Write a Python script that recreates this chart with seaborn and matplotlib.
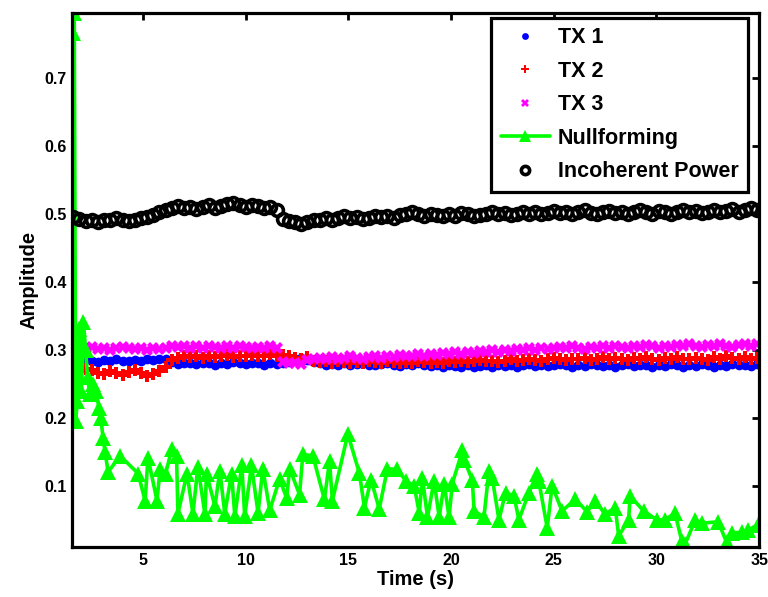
import matplotlib
matplotlib.use("Agg")
import matplotlib.pyplot as plt
import seaborn as sns

# ---------------- data ----------------
time = [1.6, 1.9, 2.2, 2.5, 2.8, 3.1, 3.4, 3.7, 4.0, 4.3,
        4.6, 4.9, 5.2, 5.5, 5.8, 6.1, 6.4, 6.7, 7.0, 7.3,
        7.6, 7.9, 8.2, 8.5, 8.8, 9.1, 9.4, 9.7, 10.0, 10.3,
        10.6, 10.9, 11.2, 11.5, 11.8, 12.1, 12.4, 12.7, 13.0, 13.3,
        13.6, 13.9, 14.2, 14.5, 14.8, 15.1, 15.4, 15.7, 16.0, 16.3,
        16.6, 16.9, 17.2, 17.5, 17.8, 18.1, 18.4, 18.7, 19.0, 19.3,
        19.6, 19.9, 20.2, 20.5, 20.8, 21.1, 21.4, 21.7, 22.0, 22.3,
        22.6, 22.9, 23.2, 23.5, 23.8, 24.1, 24.4, 24.7, 25.0, 25.3,
        25.6, 25.9, 26.2, 26.5, 26.8, 27.1, 27.4, 27.7, 28.0, 28.3,
        28.6, 28.9, 29.2, 29.5, 29.8, 30.1, 30.4, 30.7, 31.0, 31.3,
        31.6, 31.9, 32.2, 32.5, 32.8, 33.1, 33.4, 33.7, 34.0, 34.3,
        34.6, 34.9]

tx1 = [0.285, 0.283, 0.286, 0.284, 0.282, 0.285, 0.283, 0.286, 0.284, 0.283,
       0.285, 0.284, 0.286, 0.285, 0.287, 0.286, 0.282, 0.279, 0.280, 0.281,
       0.279, 0.281, 0.280, 0.278, 0.281, 0.279, 0.282, 0.280, 0.279, 0.281,
       0.280, 0.278, 0.281, 0.279, 0.280, 0.282, 0.286, 0.288, 0.285, 0.282,
       0.280, 0.278, 0.279, 0.277, 0.280, 0.278, 0.279, 0.281, 0.278, 0.277,
       0.279, 0.280, 0.278, 0.276, 0.279, 0.277, 0.280, 0.278, 0.276, 0.277,
       0.275, 0.277, 0.276, 0.274, 0.277, 0.275, 0.276, 0.278, 0.275, 0.277,
       0.276, 0.278, 0.275, 0.277, 0.279, 0.276, 0.278, 0.276, 0.277, 0.279,
       0.277, 0.275, 0.278, 0.276, 0.279, 0.277, 0.276, 0.278, 0.275, 0.277,
       0.279, 0.276, 0.278, 0.277, 0.275, 0.278, 0.276, 0.279, 0.277, 0.275,
       0.278, 0.276, 0.279, 0.277, 0.275, 0.278, 0.276, 0.279, 0.277, 0.278,
       0.276, 0.279]

tx2 = [0.265, 0.268, 0.272, 0.270, 0.266, 0.264, 0.268, 0.266, 0.263, 0.267,
       0.270, 0.266, 0.262, 0.264, 0.268, 0.275, 0.285, 0.288, 0.290, 0.289,
       0.290, 0.288, 0.291, 0.289, 0.290, 0.292, 0.289, 0.291, 0.290, 0.292,
       0.291, 0.290, 0.293, 0.291, 0.292, 0.290, 0.288, 0.286, 0.289, 0.284,
       0.282, 0.283, 0.281, 0.283, 0.282, 0.280, 0.282, 0.281, 0.283, 0.282,
       0.281, 0.283, 0.282, 0.280, 0.282, 0.281, 0.283, 0.282, 0.280, 0.282,
       0.281, 0.283, 0.282, 0.284, 0.282, 0.283, 0.285, 0.283, 0.284, 0.282,
       0.284, 0.286, 0.284, 0.285, 0.287, 0.285, 0.284, 0.286, 0.288, 0.286,
       0.285, 0.287, 0.286, 0.288, 0.285, 0.287, 0.289, 0.286, 0.288, 0.287,
       0.285, 0.288, 0.286, 0.289, 0.287, 0.285, 0.288, 0.286, 0.289, 0.287,
       0.286, 0.288, 0.287, 0.285, 0.289, 0.287, 0.290, 0.288, 0.286, 0.289,
       0.287, 0.288]

tx3 = [0.303, 0.300, 0.302, 0.304, 0.301, 0.303, 0.300, 0.302, 0.304, 0.302,
       0.301, 0.303, 0.300, 0.302, 0.301, 0.303, 0.305, 0.304, 0.306, 0.303,
       0.305, 0.303, 0.306, 0.304, 0.302, 0.305, 0.303, 0.306, 0.304, 0.302,
       0.304, 0.302, 0.305, 0.303, 0.282, 0.280, 0.281, 0.279, 0.285, 0.287,
       0.288, 0.286, 0.289, 0.287, 0.288, 0.290, 0.288, 0.287, 0.289, 0.290,
       0.288, 0.291, 0.289, 0.292, 0.290, 0.291, 0.293, 0.291, 0.294, 0.292,
       0.295, 0.293, 0.296, 0.294, 0.297, 0.295, 0.298, 0.296, 0.299, 0.297,
       0.300, 0.298, 0.301, 0.299, 0.302, 0.300, 0.303, 0.301, 0.302, 0.304,
       0.302, 0.305, 0.303, 0.301, 0.304, 0.302, 0.305, 0.303, 0.306, 0.304,
       0.303, 0.306, 0.304, 0.307, 0.305, 0.303, 0.306, 0.304, 0.307, 0.305,
       0.308, 0.306, 0.304, 0.307, 0.305, 0.308, 0.306, 0.304, 0.307, 0.309,
       0.306, 0.308]

incoherent = [0.495, 0.492, 0.489, 0.490, 0.488, 0.491, 0.490, 0.493, 0.491, 0.489,
              0.490, 0.493, 0.495, 0.498, 0.502, 0.505, 0.509, 0.511, 0.508, 0.510,
              0.507, 0.510, 0.512, 0.509, 0.511, 0.514, 0.515, 0.512, 0.510, 0.513,
              0.511, 0.508, 0.510, 0.506, 0.492, 0.489, 0.487, 0.485, 0.488, 0.490,
              0.491, 0.493, 0.490, 0.494, 0.496, 0.493, 0.495, 0.492, 0.494, 0.496,
              0.495, 0.497, 0.494, 0.498, 0.500, 0.502, 0.499, 0.497, 0.500, 0.498,
              0.496, 0.499, 0.497, 0.501, 0.499, 0.496, 0.498, 0.500, 0.502, 0.499,
              0.501, 0.498, 0.500, 0.503, 0.500, 0.502, 0.499, 0.501, 0.504, 0.501,
              0.503, 0.500, 0.502, 0.505, 0.501, 0.499, 0.502, 0.504, 0.501, 0.503,
              0.500, 0.503, 0.505, 0.502, 0.500, 0.504, 0.502, 0.499, 0.503, 0.505,
              0.502, 0.504, 0.501, 0.503, 0.506, 0.502, 0.504, 0.507, 0.503, 0.505,
              0.508, 0.506]

null_time = [1.60, 1.65, 1.72, 1.80, 1.90, 2.00, 2.10, 2.20, 2.30, 2.40,
             2.55, 2.70, 2.85, 2.95, 3.05, 3.15, 3.30, 3.88, 4.76, 5.10,
             5.24, 5.68, 5.83, 6.10, 6.40, 6.63, 6.70, 7.14, 7.43, 7.67,
             8.01, 8.09, 8.50, 8.74, 8.98, 9.31, 9.47, 9.81, 9.95, 10.28,
             10.60, 10.83, 11.17, 11.65, 11.99, 12.14, 12.62, 12.78, 13.27, 13.83,
             14.08, 14.22, 14.97, 15.53, 15.78, 16.10, 16.50, 16.90, 17.38, 17.80,
             18.20, 18.45, 18.60, 18.85, 19.17, 19.42, 19.66, 19.90, 20.06, 20.55,
             20.63, 21.03, 21.12, 21.60, 21.84, 22.00, 22.33, 22.65, 23.06, 23.30,
             23.79, 24.19, 24.27, 24.68, 24.92, 25.40, 26.05, 26.62, 27.02, 27.50,
             27.99, 28.16, 28.64, 28.72, 29.37, 30.01, 30.42, 30.90, 31.23, 31.39,
             31.88, 32.20, 33.01, 33.41, 33.66, 34.14, 34.47, 34.95]

nullforming = [0.765, 0.795, 0.195, 0.225, 0.330, 0.240, 0.340, 0.300, 0.260, 0.235,
               0.250, 0.240, 0.215, 0.200, 0.170, 0.150, 0.120, 0.144, 0.118, 0.078,
               0.141, 0.078, 0.125, 0.118, 0.154, 0.144, 0.059, 0.118, 0.059, 0.128,
               0.059, 0.118, 0.070, 0.122, 0.059, 0.118, 0.055, 0.130, 0.055, 0.130,
               0.060, 0.125, 0.064, 0.110, 0.082, 0.125, 0.087, 0.146, 0.144, 0.080,
               0.136, 0.078, 0.176, 0.119, 0.068, 0.109, 0.066, 0.125, 0.124, 0.107,
               0.100, 0.060, 0.112, 0.054, 0.107, 0.054, 0.103, 0.054, 0.103, 0.152,
               0.138, 0.109, 0.063, 0.054, 0.122, 0.112, 0.050, 0.090, 0.085, 0.050,
               0.090, 0.118, 0.107, 0.038, 0.100, 0.063, 0.080, 0.062, 0.078, 0.058,
               0.068, 0.026, 0.050, 0.085, 0.063, 0.050, 0.050, 0.060, 0.019, 0.014,
               0.049, 0.045, 0.047, 0.017, 0.030, 0.032, 0.035, 0.043]

x_ticks = [5, 10, 15, 20, 25, 30, 35]
y_ticks = [0.1, 0.2, 0.3, 0.4, 0.5, 0.6, 0.7]
tick_labels_y = ["0.1", "0.2", "0.3", "0.4", "0.5", "0.6", "0.7"]

# ---------------- style ----------------
sns.set_style("white")
plt.rcParams["font.family"] = ["Liberation Sans", "DejaVu Sans"]
plt.rcParams["font.weight"] = "bold"
plt.rcParams["text.color"] = "black"
plt.rcParams["axes.labelcolor"] = "black"
plt.rcParams["xtick.color"] = "black"
plt.rcParams["ytick.color"] = "black"

fig = plt.figure(figsize=(7.68, 5.97), dpi=100)
ax = fig.add_axes([0.094, 0.0838, 0.8945, 0.8945])

sns.lineplot(x=time, y=tx1, ax=ax, estimator=None, sort=False, color="#0000ff",
             linestyle="", marker="o", markersize=7, markeredgewidth=0,
             label="TX 1")
sns.lineplot(x=time, y=tx2, ax=ax, estimator=None, sort=False, color="#ff0000",
             linestyle="", marker="P", markersize=9, markeredgewidth=0,
             label="TX 2")
sns.lineplot(x=time, y=tx3, ax=ax, estimator=None, sort=False, color="#ff00ff",
             linestyle="", marker="X", markersize=9, markeredgewidth=0,
             label="TX 3")
sns.lineplot(x=null_time, y=nullforming, ax=ax, estimator=None, sort=False,
             color="#00ff00", linewidth=2.6, marker="^", markersize=12,
             markeredgewidth=0, label="Nullforming")
sns.lineplot(x=time, y=incoherent, ax=ax, estimator=None, sort=False,
             color="black", linestyle="", marker="o", markersize=8.5,
             markerfacecolor="none", markeredgecolor="black",
             markeredgewidth=2.6, label="Incoherent Power")

ax.set_xlim(1.55, 35)
ax.set_ylim(0.01, 0.795)
ax.set_xticks(x_ticks)
ax.set_xticklabels([str(v) for v in x_ticks])
ax.set_yticks(y_ticks)
ax.set_yticklabels(tick_labels_y)

for s in ax.spines.values():
    s.set_visible(True)
    s.set_linewidth(2.3)
    s.set_color("black")

ax.tick_params(direction="in", length=5, width=2, top=True, right=True,
               labelsize=11.5, pad=4, colors="black")
for lab in ax.get_xticklabels() + ax.get_yticklabels():
    lab.set_fontweight("bold")

ax.set_xlabel("Time (s)", fontsize=14.5, fontweight="bold", labelpad=2)
ax.set_ylabel("Amplitude", fontsize=14.5, fontweight="bold", labelpad=4)

handles, labels = ax.get_legend_handles_labels()
leg = ax.legend(handles, labels, loc="upper right", bbox_to_anchor=(0.984, 0.991),
                borderaxespad=0,
                prop={"weight": "bold", "size": 15.5}, frameon=True,
                fancybox=False, edgecolor="black", framealpha=1,
                handlelength=2.3, labelspacing=0.58, borderpad=0.45,
                handletextpad=0.35, markerscale=0.7)
leg.get_frame().set_linewidth(2.3)
for t in leg.get_texts():
    t.set_color("black")

fig.savefig("out.png", dpi=100)
